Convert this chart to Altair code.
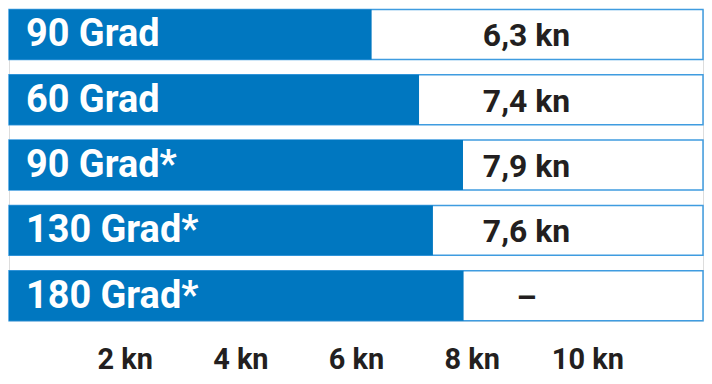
import altair as alt
import pandas as pd

# Data
categories = ["90 Grad", "60 Grad", "90 Grad*", "130 Grad*", "180 Grad*"]
bar_kn = [6.27, 7.09, 7.85, 7.33, 7.86]
speed_labels = ["6,3 kn", "7,4 kn", "7,9 kn", "7,6 kn", "–"]
tick_values = [2, 4, 6, 8, 10]
axis_max = 12

df = pd.DataFrame({
    "cat": categories,
    "kn": bar_kn,
    "speed": speed_labels,
})

FONT = "Roboto"
BLUE = "#0077c0"
LIGHT = "#3f9ce0"

y_enc = alt.Y("cat:N", sort=categories, axis=None,
              scale=alt.Scale(paddingInner=0.235, paddingOuter=0))
x_scale = alt.Scale(domain=[0, axis_max], nice=False, zero=True)

base = alt.Chart(df).transform_calculate(start="0", full=str(axis_max))

frame = base.mark_rect(fill="white", stroke=LIGHT, strokeWidth=1.5).encode(
    x=alt.X("start:Q", scale=x_scale,
            axis=alt.Axis(values=tick_values, labelExpr="datum.value + ' kn'",
                          grid=False, domain=False, ticks=False,
                          labelFont=FONT, labelFontSize=29, labelFontWeight="bold",
                          labelColor="#231f20", labelPadding=48, title=None,
                          labelBaseline="alphabetic")),
    x2="full:Q",
    y=y_enc,
)

bars = base.mark_rect(fill=BLUE).encode(
    x=alt.X("start:Q", scale=x_scale),
    x2="kn:Q",
    y=y_enc,
)

labels = base.mark_text(align="left", baseline="middle", font=FONT, fontSize=38,
                        fontWeight="bold", color="white", dy=1).encode(
    x=alt.value(17),
    y=alt.Y("cat:N", sort=categories),
    text="cat:N",
)

values = base.mark_text(align="center", baseline="middle", font=FONT, fontSize=32,
                        fontWeight="bold", color="#231f20", dy=2).encode(
    x=alt.value(519),
    y=alt.Y("cat:N", sort=categories),
    text="speed:N",
)

chart = alt.layer(frame, bars, labels, values).properties(
    width=696, height=312, padding=0,
).configure_view(stroke=None).configure(background="white")

chart.save("out.html", embed_options={"renderer": "svg", "actions": False})
